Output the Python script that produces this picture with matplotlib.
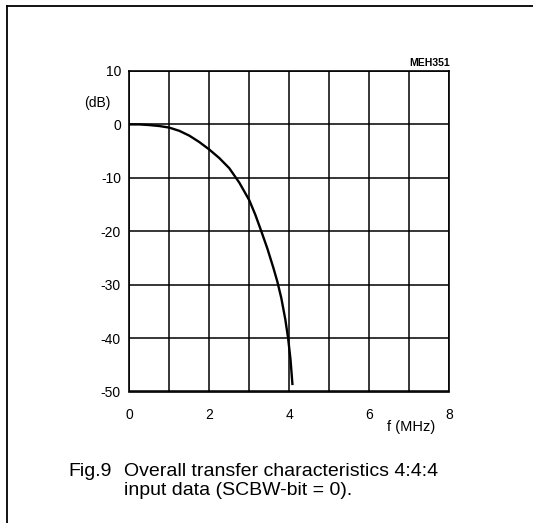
import matplotlib
matplotlib.use('Agg')
import matplotlib.pyplot as plt
from matplotlib.lines import Line2D

plt.rcParams['font.family'] = ['Liberation Sans', 'DejaVu Sans']

# response curve
freq_mhz = [0.0, 0.25, 0.5, 0.75, 1.0, 1.25, 1.5, 1.75, 2.0, 2.25, 2.5, 2.75, 3.0, 3.15,
            3.3, 3.45, 3.6, 3.7, 3.8, 3.9, 3.97, 4.03, 4.08]
gain_db = [0.0, 0.0, -0.12, -0.3, -0.6, -1.2, -2.1, -3.3, -4.7, -6.3, -8.2, -10.9, -14.2, -16.9,
           -20.0, -23.2, -26.8, -29.4, -32.5, -36.5, -40.0, -44.0, -48.8]

x_ticks = [0, 2, 4, 6, 8]
x_grid = [0, 1, 2, 3, 4, 5, 6, 7, 8]
y_ticks = [10, 0, -10, -20, -30, -40, -50]

W, H = 533, 523
fig = plt.figure(figsize=(W / 100, H / 100), dpi=100)
ax = fig.add_axes([129.3 / W, (H - 391.5) / H, 320 / W, 320.5 / H])

ax.plot(freq_mhz, gain_db, color='black', lw=1.7, solid_capstyle='butt')

ax.set_xlim(0, 8)
ax.set_ylim(-50, 10)
ax.set_xticks(x_grid)
ax.set_xticklabels([str(v) if v in x_ticks else '' for v in x_grid])
ax.set_yticks(y_ticks)
ax.set_yticklabels([str(v) for v in y_ticks])
ax.grid(True, color='black', lw=1.1)
ax.tick_params(length=0, labelsize=10)
ax.tick_params(axis='x', pad=12)
ax.tick_params(axis='y', pad=6)
for s in ax.spines.values():
    s.set_linewidth(1.2)

def fx(px):
    return px / W

def fy(py):
    return 1 - py / H

fig.text(fx(97), fy(102.7), '(dB)', fontsize=10, ha='center', va='center')
fig.text(fx(411.5), fy(427), 'f (MHz)', fontsize=10.5, ha='center', va='center')
fig.text(fx(450), fy(66.5), 'MEH351', fontsize=7.5, fontweight='bold', ha='right', va='baseline')

fig.text(fx(68), fy(476), 'Fig.9', fontsize=14, ha='left', va='baseline')
fig.text(fx(124), fy(476), 'Overall transfer characteristics 4:4:4',
         fontsize=14, ha='left', va='baseline')
fig.text(fx(124), fy(495), 'input data (SCBW-bit = 0).',
         fontsize=14, ha='left', va='baseline')

# partial frame around the figure (top and left only)
fig.add_artist(Line2D([fx(7), 1], [fy(6), fy(6)], color='black', lw=1.3, transform=fig.transFigure))
fig.add_artist(Line2D([fx(7), fx(7)], [fy(6), 0], color='black', lw=1.3, transform=fig.transFigure))

fig.savefig('out.png', dpi=100)
